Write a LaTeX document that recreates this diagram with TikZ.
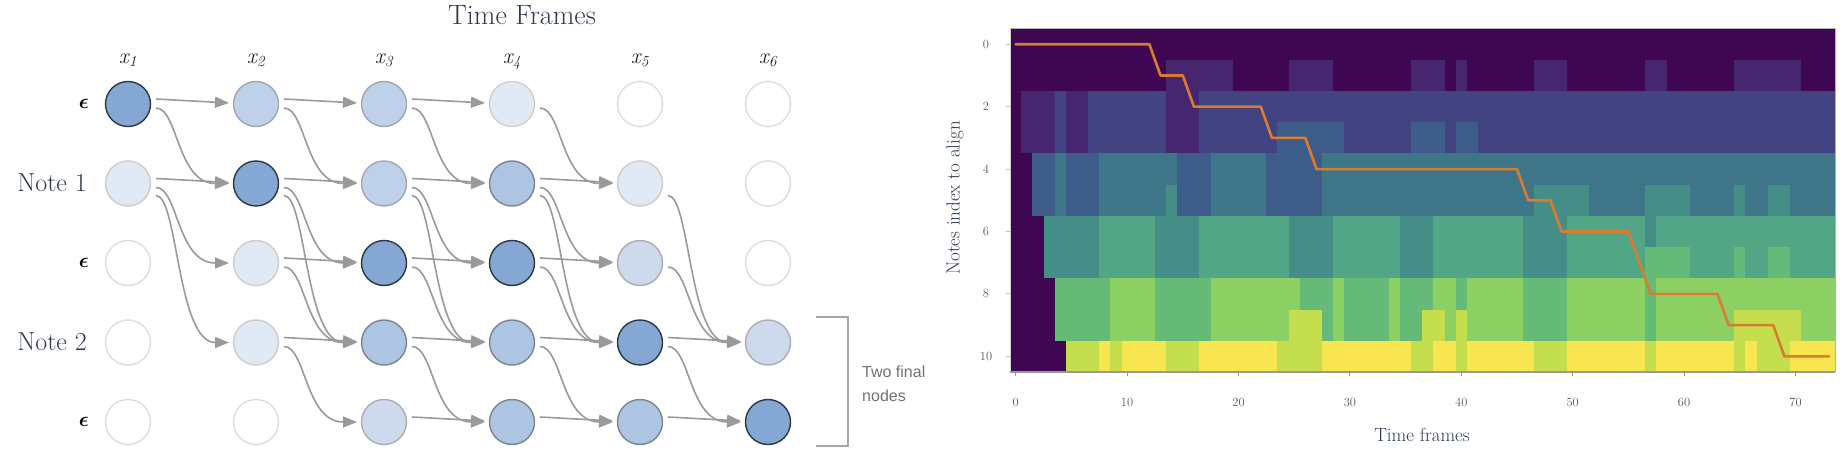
\documentclass[tikz,border=0pt]{standalone}
\usepackage{amsmath}
\usepackage{fontspec}
\newfontfamily\hvsans{Liberation Sans}
\usetikzlibrary{arrows.meta,calc}

\definecolor{txt}{HTML}{2E3B4E}
\definecolor{ticktxt}{HTML}{5A5A5A}
\definecolor{edgegray}{HTML}{9A9A9A}
\definecolor{nDark}{HTML}{84A7D4}\definecolor{nDarkB}{HTML}{2B3846}
\definecolor{nMed}{HTML}{ADC4E2}\definecolor{nMedB}{HTML}{7B8590}
\definecolor{nLight}{HTML}{BFD1E8}\definecolor{nLightB}{HTML}{A2A8AF}
\definecolor{nLightT}{HTML}{CCDAEC}\definecolor{nLightTB}{HTML}{A9AEB4}
\definecolor{nVLight}{HTML}{E0EAF5}\definecolor{nVLightB}{HTML}{C9CED3}
\definecolor{nWhiteB}{HTML}{DEDEDE}
\definecolor{hm0}{RGB}{63,7,81}
\definecolor{hm1}{RGB}{69,38,111}
\definecolor{hm2}{RGB}{66,68,130}
\definecolor{hm3}{RGB}{62,92,138}
\definecolor{hm4}{RGB}{63,117,137}
\definecolor{hm5}{RGB}{69,142,135}
\definecolor{hm6}{RGB}{82,166,133}
\definecolor{hm7}{RGB}{102,186,120}
\definecolor{hm8}{RGB}{140,208,99}
\definecolor{hm9}{RGB}{197,222,77}
\definecolor{hm10}{RGB}{248,230,80}
\definecolor{pathorange}{RGB}{218,124,48}

\tikzset{
  nd/.style={circle, minimum size=45pt, inner sep=0pt, line width=1.4pt},
  ndark/.style={nd, fill=nDark, draw=nDarkB},
  nmed/.style={nd, fill=nMed, draw=nMedB},
  nlight/.style={nd, fill=nLight, draw=nLightB},
  nlightt/.style={nd, fill=nLightT, draw=nLightTB},
  nvlight/.style={nd, fill=nVLight, draw=nVLightB},
  nwhite/.style={nd, fill=white, draw=nWhiteB},
  edge/.style={draw=edgegray, line width=1.6pt, -{Triangle[length=14pt,width=11pt]}},
  rowlab/.style={text=txt, font=\fontsize{26}{30}\selectfont, anchor=east, inner sep=0pt},
  epslab/.style={text=black, font=\fontsize{22}{26}\selectfont, anchor=east, inner sep=0pt},
  collab/.style={text=black!85, font=\fontsize{22}{26}\selectfont\itshape, anchor=base, inner sep=0pt},
  ticklab/.style={text=ticktxt, font=\fontsize{12.5}{14}\selectfont, inner sep=0pt},
  axlab/.style={text=txt, font=\fontsize{19}{22}\selectfont, inner sep=0pt},
}
\newcommand\HEd[2]{\draw[edge] ($(#1)+(28,-5)$) -- ($(#2)+(-27,-1)$);}
\newcommand\DEd[2]{\draw[edge] ($(#1)+(28,4)$) .. controls +(22,0) and +(-52,0) .. ($(#2)+(-27,0)$);}
\newcommand\DDEd[2]{\draw[edge] ($(#1)+(28,12)$) .. controls +(22,0) and +(-52,0) .. ($(#2)+(-27,0)$);}

\begin{document}
\begin{tikzpicture}[x=1pt,y=-1pt]
\useasboundingbox[fill=white] (0,0) rectangle (1842,457);

% ---------- left: alignment graph ----------
\node[text=txt, font=\fontsize{28}{32}\selectfont, anchor=base, inner sep=0pt] (title) at (522,25) {Time Frames};

\foreach \c in {1,...,6} {
  \node[collab] (lab\c) at ({128+128*(\c-1)},63.5) {x\textsubscript{\c}};
}

\node[epslab] (e0) at (89,104) {$\boldsymbol{\epsilon}$};
\node[rowlab] (note1) at (87,183) {Note 1};
\node[epslab] (e2) at (89,263) {$\boldsymbol{\epsilon}$};
\node[rowlab] (note2) at (87,342) {Note 2};
\node[epslab] (e4) at (89,422) {$\boldsymbol{\epsilon}$};

% row 0
\node[ndark]  (n10) at (128,104) {};
\node[nlight] (n20) at (256,104) {};
\node[nlight] (n30) at (384,104) {};
\node[nvlight](n40) at (512,104) {};
\node[nwhite] (n50) at (640,104) {};
\node[nwhite] (n60) at (768,104) {};
% row 1
\node[nvlight](n11) at (128,183.5) {};
\node[ndark]  (n21) at (256,183.5) {};
\node[nlight] (n31) at (384,183.5) {};
\node[nmed]   (n41) at (512,183.5) {};
\node[nvlight](n51) at (640,183.5) {};
\node[nwhite] (n61) at (768,183.5) {};
% row 2
\node[nwhite] (n12) at (128,263) {};
\node[nvlight](n22) at (256,263) {};
\node[ndark]  (n32) at (384,263) {};
\node[ndark]  (n42) at (512,263) {};
\node[nlightt](n52) at (640,263) {};
\node[nwhite] (n62) at (768,263) {};
% row 3
\node[nwhite] (n13) at (128,342.5) {};
\node[nvlight](n23) at (256,342.5) {};
\node[nmed]   (n33) at (384,342.5) {};
\node[nmed]   (n43) at (512,342.5) {};
\node[ndark]  (n53) at (640,342.5) {};
\node[nlightt](n63) at (768,342.5) {};
% row 4
\node[nwhite] (n14) at (128,422) {};
\node[nwhite] (n24) at (256,422) {};
\node[nlightt](n34) at (384,422) {};
\node[nmed]   (n44) at (512,422) {};
\node[nmed]   (n54) at (640,422) {};
\node[ndark]  (n64) at (768,422) {};

% edges
\HEd{n10}{n20}\DEd{n10}{n21}
\HEd{n11}{n21}\DEd{n11}{n22}\DDEd{n11}{n23}
\HEd{n20}{n30}\DEd{n20}{n31}
\HEd{n21}{n31}\DEd{n21}{n32}\DDEd{n21}{n33}
\HEd{n22}{n32}\DEd{n22}{n33}
\HEd{n23}{n33}\DEd{n23}{n34}
\HEd{n30}{n40}\DEd{n30}{n41}
\HEd{n31}{n41}\DEd{n31}{n42}\DDEd{n31}{n43}
\HEd{n32}{n42}\DEd{n32}{n43}
\HEd{n33}{n43}\DEd{n33}{n44}
\HEd{n34}{n44}
\DEd{n40}{n51}
\HEd{n41}{n51}\DEd{n41}{n52}\DDEd{n41}{n53}
\HEd{n42}{n52}\DEd{n42}{n53}
\HEd{n43}{n53}\DEd{n43}{n54}
\HEd{n44}{n54}
\DDEd{n51}{n63}
\DEd{n52}{n63}
\HEd{n53}{n63}\DEd{n53}{n64}
\HEd{n54}{n64}

% bracket
\draw[draw=black!35, line width=1.3pt] (816,317) -- (848,317) -- (848,446) -- (816,446);
\node[text=black!55, font=\hvsans\fontsize{16}{23.5}\selectfont, align=left, anchor=west, inner sep=0pt] (finals) at (862,384) {Two final\\nodes};

% ---------- right: heatmap ----------
\begin{scope}[shift={(1010.1,28.7)}, x=11.14pt, y=-31.2pt]
\foreach \r/\a/\b/\c in {
0/0/73/hm0,
1/0/13/hm0, 1/14/19/hm1, 1/20/24/hm0, 1/25/28/hm1, 1/29/35/hm0, 1/36/38/hm1, 1/39/39/hm0, 1/40/40/hm1, 1/41/46/hm0, 1/47/49/hm1, 1/50/56/hm0, 1/57/58/hm1, 1/59/64/hm0, 1/65/70/hm1, 1/71/73/hm0,
2/0/0/hm0, 2/1/3/hm1, 2/4/4/hm2, 2/5/6/hm1, 2/7/13/hm2, 2/14/16/hm1, 2/17/73/hm2,
3/0/0/hm0, 3/1/3/hm1, 3/4/4/hm2, 3/5/6/hm1, 3/7/13/hm2, 3/14/16/hm1, 3/17/23/hm2, 3/24/29/hm3, 3/30/35/hm2, 3/36/38/hm3, 3/39/39/hm2, 3/40/41/hm3, 3/42/73/hm2,
4/0/1/hm0, 4/2/3/hm3, 4/4/4/hm4, 4/5/7/hm3, 4/8/14/hm4, 4/15/17/hm3, 4/18/22/hm4, 4/23/27/hm3, 4/28/73/hm4,
5/0/1/hm0, 5/2/3/hm3, 5/4/4/hm4, 5/5/7/hm3, 5/8/13/hm4, 5/14/14/hm5, 5/15/17/hm3, 5/18/22/hm4, 5/23/27/hm3, 5/28/46/hm4, 5/47/51/hm5, 5/52/56/hm4, 5/57/60/hm5, 5/61/64/hm4, 5/65/65/hm5, 5/66/67/hm4, 5/68/69/hm5, 5/70/73/hm4,
6/0/2/hm0, 6/3/7/hm5, 6/8/12/hm6, 6/13/16/hm5, 6/17/24/hm6, 6/25/28/hm5, 6/29/34/hm6, 6/35/37/hm5, 6/38/45/hm6, 6/46/49/hm5, 6/50/56/hm6, 6/57/57/hm5, 6/58/73/hm6,
7/0/2/hm0, 7/3/7/hm5, 7/8/12/hm6, 7/13/16/hm5, 7/17/24/hm6, 7/25/28/hm5, 7/29/34/hm6, 7/35/37/hm5, 7/38/45/hm6, 7/46/49/hm5, 7/50/56/hm6, 7/57/60/hm7, 7/61/64/hm6, 7/65/65/hm7, 7/66/67/hm6, 7/68/69/hm7, 7/70/73/hm6,
8/0/3/hm0, 8/4/8/hm7, 8/9/12/hm8, 8/13/17/hm7, 8/18/25/hm8, 8/26/28/hm7, 8/29/29/hm8, 8/30/33/hm7, 8/34/34/hm8, 8/35/37/hm7, 8/38/39/hm8, 8/40/40/hm7, 8/41/45/hm8, 8/46/49/hm7, 8/50/56/hm8, 8/57/57/hm7, 8/58/73/hm8,
9/0/3/hm0, 9/4/8/hm7, 9/9/12/hm8, 9/13/17/hm7, 9/18/24/hm8, 9/25/27/hm9, 9/28/28/hm7, 9/29/29/hm8, 9/30/33/hm7, 9/34/34/hm8, 9/35/36/hm7, 9/37/38/hm9, 9/39/39/hm8, 9/40/40/hm9, 9/41/45/hm8, 9/46/49/hm7, 9/50/56/hm8, 9/57/57/hm7, 9/58/64/hm8, 9/65/70/hm9, 9/71/73/hm8,
10/0/4/hm0, 10/5/7/hm9, 10/8/8/hm10, 10/9/9/hm9, 10/10/13/hm10, 10/14/16/hm9, 10/17/23/hm10, 10/24/27/hm9, 10/28/35/hm10, 10/36/37/hm9, 10/38/39/hm10, 10/40/40/hm9, 10/41/46/hm10, 10/47/49/hm9, 10/50/56/hm10, 10/57/57/hm9, 10/58/64/hm10, 10/65/65/hm9, 10/66/66/hm10, 10/67/69/hm9, 10/70/73/hm10}
{
  \fill[\c] ({\a},{\r}) rectangle ({\b+1.04},{\r+1.02});
}
\end{scope}

% alignment path
\begin{scope}[shift={(1015.7,44.3)}, x=11.14pt, y=-31.2pt]
\draw[pathorange, line width=2.6pt, line join=round, line cap=round]
  (0,0) -- (12,0) -- (13,1) -- (15,1) -- (16,2) -- (22,2) -- (23,3) -- (26,3) -- (27,4)
  -- (45,4) -- (46,5) -- (48,5) -- (49,6) -- (55,6) -- (57,8) -- (63,8) -- (64,9)
  -- (68,9) -- (69,10) -- (73,10);
\end{scope}

% frame and axes
\draw[black!30, line width=1pt] (1010,29) -- (1835,29) -- (1835,372);
\draw[black!18, line width=1pt] (1010,29) -- (1010,372);
\draw[black!40, line width=1.2pt] (1010,372) -- (1835,372);
\foreach \k in {0,...,7} {
  \draw[black!40, line width=1pt] ({1015.7+111.4*\k},372) -- ({1015.7+111.4*\k},376);
  \pgfmathtruncatemacro{\lab}{10*\k}
  \node[ticklab] (xt\k) at ({1015.7+111.4*\k},402) {\lab};
}
\foreach \k in {0,...,5} {
  \draw[black!25, line width=1pt] (1006,{44.3+62.4*\k}) -- (1010,{44.3+62.4*\k});
  \pgfmathtruncatemacro{\lab}{2*\k}
  \node[ticklab] (yt\k) at (986,{44.3+62.4*\k}) {\lab};
}
\node[axlab] (xlab) at (1422,435) {Time frames};
\node[axlab, rotate=90] (ylab) at (955,198) {Notes index to align};
\end{tikzpicture}
\end{document}
